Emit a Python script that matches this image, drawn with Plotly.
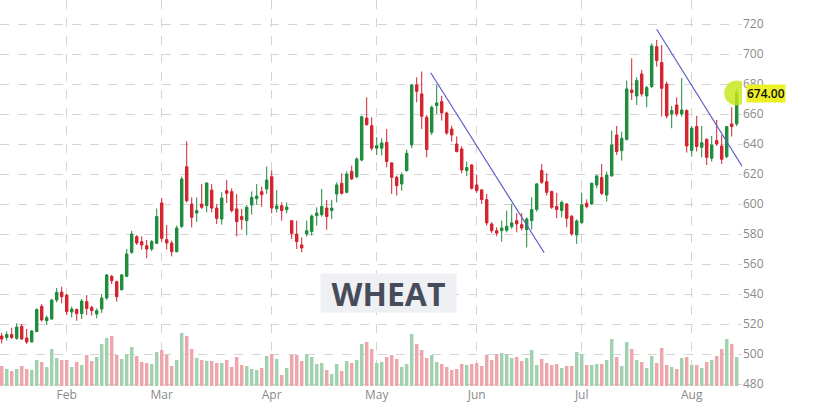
import plotly.graph_objects as go

# trading-day index and month labels
month_ticks = [13, 32, 54, 75, 95, 116, 138]
month_labels = ["Feb", "Mar", "Apr", "May", "Jun", "Jul", "Aug"]

opens = [512, 511, 513, 510.5, 518.5, 510.7, 508, 515, 531.8, 522.2,
         523.3, 536, 541.3, 539.3, 528, 529.6, 526.9, 534.9, 531, 526.7,
         530, 537.3, 551.8, 548.2, 542.9, 551.8, 567.8, 578.2, 574.9, 572.2,
         570, 573.8, 600.7, 576.2, 574, 568.2, 585.1, 624.9, 600, 594,
         600, 598.9, 609.3, 597.3, 590, 608.9, 608.2, 596.7, 591.6, 588.9,
         599.3, 603.6, 608.2, 610, 618.2, 596.9, 598.9, 596.2, 588.9, 580,
         572.7, 580, 581.6, 592.2, 592.9, 597.3, 595.6, 606.7, 613.8, 607.8,
         621.8, 618.2, 629.3, 657.3, 652.2, 637.2, 637.2, 641.1, 627.4, 617.8,
         613.4, 622.3, 639.4, 679.4, 673.4, 657.8, 647.8, 665.6, 668.3, 660.7,
         650, 640, 636.7, 622.3, 626, 612.7, 609.4, 602.9, 586.7, 582.2,
         582.2, 582.5, 584.9, 588.9, 586.2, 582.9, 588.9, 596.3, 622.3, 614.9,
         608.3, 598.3, 595.6, 600, 591.8, 579.4, 587.6, 600.5, 600, 612.7,
         617.6, 606, 618.7, 646, 635.6, 643.1, 676, 672, 686.7, 672,
         678.3, 704.9, 694.3, 680, 660.1, 666, 660, 662.3, 635.6, 651.6,
         637.8, 643.1, 630.5, 642.3, 638.7, 631.6, 653.4, 653.4]
highs = [514, 515, 517.5, 520.5, 520, 516.7, 516, 530.4, 533.3, 525.6,
         536.7, 544, 544.9, 540, 531.6, 530.4, 536.7, 539.3, 532.2, 530.4,
         540, 553.3, 552.7, 548.9, 553.3, 570, 582.2, 579.3, 578.4, 576,
         576, 597, 604, 586, 575.6, 585.6, 618.2, 641.8, 604.4, 604.4,
         613.3, 614.4, 613.3, 600, 607.8, 616, 610.4, 606.7, 596.7, 599.3,
         608.4, 613.3, 611.6, 624.9, 622.2, 609.3, 601.1, 601.1, 589, 588.9,
         577.8, 588.9, 592.9, 597.8, 610, 602.7, 602.7, 614.4, 620.4, 621.8,
         625.6, 631.1, 658.9, 671.1, 657.8, 644.5, 643.8, 650, 627.8, 618.9,
         621.1, 636.3, 680, 684.5, 688.3, 659.4, 665.6, 679.4, 672.2, 661.6,
         652.2, 645.1, 638.5, 628.3, 626.7, 619.4, 610, 606.7, 587.8, 584.5,
         588.9, 595.6, 600, 594, 594, 591.1, 604.5, 614, 626.7, 620.5,
         608.9, 607.4, 602.3, 600.7, 592.7, 589.8, 607.6, 603.1, 614.3, 619.4,
         626.7, 621.6, 648.9, 652, 648.2, 682.3, 697.1, 684.5, 689.4, 678.7,
         707.1, 709.4, 706, 681.6, 665.4, 671.1, 684, 663.1, 652, 658.7,
         652, 643.8, 645.4, 656, 646, 652, 664.5, 676.5]
lows = [507, 509, 510, 509.5, 509.5, 506.7, 507.8, 514.4, 521.6, 519.3,
        522.9, 534.4, 533.8, 526, 524.4, 522.2, 523.3, 526, 525.6, 523.8,
        527.3, 536.2, 546.7, 534.9, 542.2, 551.1, 566.7, 572.7, 569.6, 563.8,
        568.7, 573.3, 574.9, 569.6, 565.1, 567.8, 584, 601.1, 584.4, 588,
        596.7, 594.4, 594.4, 586.7, 586.2, 600.7, 594.4, 578.4, 582.9, 579.3,
        592.9, 599.6, 598.2, 606.7, 593.8, 594.4, 588.9, 593.8, 576.7, 570,
        567.8, 578.2, 578.9, 585.6, 591.6, 582.9, 590, 601.1, 606.2, 607.1,
        616, 617.1, 628.4, 652.2, 635.6, 632.7, 632.3, 624.5, 606.7, 605.6,
        608.9, 621.6, 637.2, 667.8, 650, 631.1, 646, 660, 655.6, 646,
        641.6, 634.5, 620.5, 618.5, 609.6, 607.4, 600, 585.6, 580.7, 578.5,
        574.9, 581.1, 583.4, 581.1, 582.3, 571.1, 582.9, 594.9, 613.4, 605.6,
        596.7, 590.5, 591.1, 584.5, 578.9, 573.4, 586.7, 597.1, 599.4, 610.5,
        606, 601.6, 618.3, 632.7, 628.9, 642.3, 669.4, 666, 671.6, 664.5,
        677.2, 691.6, 658.3, 657.1, 650.5, 658.3, 658.3, 634.3, 631.6, 635,
        631.1, 626, 628.3, 638.7, 626.7, 630.5, 645, 652]
closes = [510, 513, 511, 518, 510, 508, 515.3, 529.6, 522.7, 524.2,
          536, 541.1, 538.2, 528.2, 530, 526.9, 535.3, 530.4, 528.9, 528.9,
          537.3, 552.7, 548.9, 538.2, 552.7, 566.7, 580, 574, 572.7, 570,
          574.9, 591.6, 577.1, 574, 568.2, 584, 616.7, 602.2, 591.1, 595.6,
          597.8, 614, 597.3, 590.4, 604, 607.1, 595.6, 588.2, 589.6, 597.8,
          604.4, 605.3, 606.2, 616, 597.3, 598.7, 595.6, 598, 580.4, 574.9,
          570.7, 582.2, 592, 594, 598.4, 591.6, 597.3, 612.7, 607.1, 620,
          616.7, 630, 658.2, 652.9, 637.2, 638.9, 640.7, 628.3, 617.8, 612.2,
          619.4, 633.8, 679.4, 675.1, 658.5, 636.3, 664.5, 667.4, 660.7, 647.4,
          646, 634.9, 622.7, 624.3, 610.5, 608.9, 602.9, 587.4, 582.2, 580.5,
          584, 585.1, 587.4, 586.7, 584, 590, 596.3, 613.4, 614.5, 607.8,
          597.8, 596.3, 601.1, 590.5, 580, 588.7, 599.4, 598.3, 613.8, 618.7,
          607.1, 619.4, 639.4, 634.9, 643.8, 676.7, 674.3, 682.3, 673.4, 677.6,
          705.4, 695.6, 677.1, 658.7, 662.3, 660, 662.7, 638.7, 650.5, 638.3,
          640.9, 631.1, 639.4, 640, 629.8, 651.6, 651.6, 674]
volume = [20, 17, 15, 17, 20, 17, 16, 26, 24, 19,
          37, 28, 26, 26, 19, 24, 21, 31, 25, 29,
          42, 48, 50, 31, 27, 32, 39, 30, 24, 23,
          22, 34, 36, 31, 20, 26, 53, 50, 37, 28,
          26, 25, 25, 23, 23, 26, 19, 29, 21, 20,
          17, 16, 18, 30, 32, 27, 11, 18, 31, 31,
          25, 32, 29, 22, 23, 16, 12, 22, 15, 25,
          23, 26, 42, 44, 37, 23, 24, 29, 31, 27,
          19, 22, 52, 42, 36, 28, 31, 24, 22, 19,
          16, 17, 22, 21, 22, 23, 20, 31, 26, 32,
          33, 32, 28, 29, 25, 28, 36, 21, 27, 23,
          21, 22, 18, 20, 20, 34, 32, 21, 21, 22,
          22, 26, 47, 29, 20, 44, 37, 26, 24, 18,
          30, 23, 38, 21, 19, 17, 28, 29, 21, 21,
          18, 24, 26, 30, 37, 47, 42, 29]

# hand-drawn trend lines (day index, price)
trend1_day = [85.8, 108.5]
trend1_price = [687.5, 567.5]
trend2_day = [131.0, 149.3]
trend2_price = [716.5, 618.7]

GREEN = "#1e8c3c"
RED = "#d3232f"
GRID = "#d4d4d4"
TICK = "#8a8a8a"

day = list(range(len(closes)))
vol_colors = ["#a2d1b0" if c >= o else "#eda6ab" for o, c in zip(opens, closes)]

fig = go.Figure()

# volume underneath on a hidden axis
fig.add_trace(go.Bar(
    x=day, y=volume, width=0.7,
    marker=dict(color=vol_colors, line=dict(width=0)),
    yaxis="y2", hoverinfo="skip",
))

fig.add_trace(go.Candlestick(
    x=day, open=opens, high=highs, low=lows, close=closes,
    increasing=dict(line=dict(color=GREEN, width=1), fillcolor=GREEN),
    decreasing=dict(line=dict(color=RED, width=1), fillcolor=RED),
    whiskerwidth=0,
))

for tx, ty in [(trend1_day, trend1_price), (trend2_day, trend2_price)]:
    fig.add_trace(go.Scatter(
        x=tx, y=ty, mode="lines",
        line=dict(color="#5b5fc6", width=1.2),
        hoverinfo="skip",
    ))

# last price highlight
fig.add_trace(go.Scatter(
    x=[day[-1]], y=[closes[-1]], mode="markers",
    marker=dict(size=25, color="rgba(198,230,24,0.82)", line=dict(width=0)),
    hoverinfo="skip",
))

fig.add_annotation(
    xref="paper", yref="y", x=1, y=closes[-1],
    xanchor="left", yanchor="middle", xshift=4,
    text=f"{closes[-1]:.2f}", showarrow=False,
    font=dict(family="Open Sans", size=12, color="#111111", weight=600),
    bgcolor="#ecf024", borderpad=0,
)

# watermark
fig.add_annotation(
    xref="paper", yref="paper", x=0.524, y=0.241,
    xanchor="center", yanchor="middle",
    text="<b>WHEAT</b>", showarrow=False,
    width=135, height=38, align="center", valign="middle",
    font=dict(family="Open Sans", size=32, color="#474c5b"),
    bgcolor="#eff0f3", borderpad=0,
)

fig.update_layout(
    width=819, height=409,
    margin=dict(l=0, r=77, t=0, b=23),
    plot_bgcolor="white", paper_bgcolor="white",
    showlegend=False, hovermode=False,
    font=dict(family="Open Sans", size=12, color=TICK),
    xaxis=dict(
        range=[-0.34, 148.06],
        tickvals=month_ticks, ticktext=month_labels,
        showgrid=True, gridcolor=GRID, griddash="dash", gridwidth=1,
        zeroline=False, showline=False, ticks="",
        rangeslider=dict(visible=False),
        tickfont=dict(size=12, color=TICK),
    ),
    yaxis=dict(
        side="right", range=[478.67, 736],
        tickvals=list(range(480, 721, 20)),
        showgrid=True, gridcolor=GRID, griddash="dash", gridwidth=1,
        zeroline=False, showline=False, ticks="",
        tickfont=dict(size=12, color=TICK),
    ),
    yaxis2=dict(overlaying="y", range=[0, 386], visible=False),
)

# page body has a default margin; remove it so the figure sits at the window corner
fig.write_html(
    "out.html",
    config={"displayModeBar": False},
    post_script="document.body.style.margin='0px';document.body.style.overflow='hidden';",
)
